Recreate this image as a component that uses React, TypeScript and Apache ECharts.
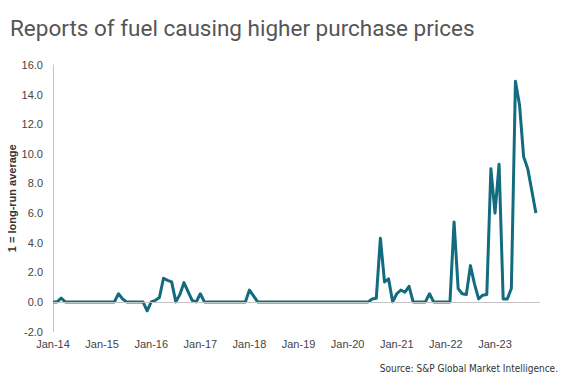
import React, { useEffect, useRef } from "react";
import * as echarts from "echarts";

const monthNames = ["Jan", "Feb", "Mar", "Apr", "May", "Jun", "Jul", "Aug", "Sep", "Oct", "Nov", "Dec"];
const years = ["14", "15", "16", "17", "18", "19", "20", "21", "22", "23"];
const categories: string[] = [];
years.forEach((y) => monthNames.forEach((m) => categories.push(`${m}-${y}`)));

const v2014 = [0, 0, 0.25, 0, 0, 0, 0, 0, 0, 0, 0, 0];
const v2015 = [0, 0, 0, 0, 0.55, 0.2, 0, 0, 0, 0, 0, -0.6];
const v2016 = [0, 0.1, 0.3, 1.6, 1.45, 1.35, 0, 0.5, 1.3, 0.7, 0.1, 0];
const v2017 = [0.55, 0, 0, 0, 0, 0, 0, 0, 0, 0, 0, 0];
const v2018 = [0.8, 0.4, 0, 0, 0, 0, 0, 0, 0, 0, 0, 0];
const v2019 = [0, 0, 0, 0, 0, 0, 0, 0, 0, 0, 0, 0];
const v2020 = [0, 0, 0, 0, 0, 0, 0.2, 0.25, 4.3, 1.35, 1.55, 0];
const v2021 = [0.55, 0.8, 0.65, 1.05, 0, 0, 0, 0, 0.55, 0, 0, 0];
const v2022 = [0, 0, 5.4, 0.9, 0.55, 0.5, 2.45, 1.2, 0.2, 0.45, 0.5, 9.0];
const v2023 = [6.0, 9.3, 0.2, 0.2, 0.9, 14.9, 13.3, 9.8, 9.0, 7.5, 6.0, null];

const values = [
  ...v2014, ...v2015, ...v2016, ...v2017, ...v2018,
  ...v2019, ...v2020, ...v2021, ...v2022, ...v2023,
];

const title = "Reports of fuel causing higher purchase prices";
const yName = "1 = long-run average";
const source = "Source: S&P Global Market Intelligence.";

export default function App() {
  const ref = useRef<HTMLDivElement>(null);
  useEffect(() => {
    if (!ref.current) return;
    const chart = echarts.init(ref.current, null, { renderer: "svg" });
    chart.setOption({
      animation: false,
      backgroundColor: "#ffffff",
      title: {
        text: title,
        left: 5,
        top: 11,
        textStyle: {
          fontFamily: "Roboto",
          fontSize: 22.5,
          fontWeight: "normal",
          color: "#555555",
        },
      },
      grid: { left: 53, right: 25, top: 65, bottom: 57.5, outerBoundsMode: "none", containLabel: false },
      xAxis: {
        type: "category",
        data: categories,
        boundaryGap: false,
        axisLine: { show: false },
        axisTick: { show: false },
        axisLabel: {
          interval: 11,
          margin: 7,
          fontFamily: "Liberation Sans",
          fontSize: 11,
          color: "#444444",
        },
        splitLine: { show: false },
      },
      yAxis: {
        type: "value",
        min: -2,
        max: 16,
        interval: 2,
        name: yName,
        nameLocation: "middle",
        nameRotate: 90,
        nameGap: 36,
        nameMoveOverlap: false,
        nameTextStyle: {
          fontFamily: "Liberation Sans",
          fontSize: 11,
          fontWeight: "bold",
          color: "#333333",
        },
        axisLine: { show: true, lineStyle: { color: "#c4c4c4", width: 1 } },
        axisTick: { show: false },
        splitLine: { show: false },
        axisLabel: {
          margin: 10,
          fontFamily: "Liberation Sans",
          fontSize: 11,
          color: "#444444",
          formatter: (v: number) => v.toFixed(1),
        },
      },
      graphic: [
        {
          type: "text",
          right: 7,
          top: 363,
          style: {
            text: source,
            fontFamily: "Liberation Sans Narrow, DejaVu Sans Condensed, sans-serif",
            fontSize: 10,
            fill: "#333333",
          },
        },
      ],
      series: [
        {
          type: "line",
          data: values,
          symbol: "none",
          lineStyle: { color: "#126b7e", width: 3, join: "round" },
          markLine: {
            silent: true,
            symbol: "none",
            label: { show: false },
            lineStyle: { color: "#c4c4c4", width: 1, type: "solid" },
            data: [{ yAxis: 0 }],
          },
          z: 3,
        },
      ],
    });
    return () => chart.dispose();
  }, []);
  return (
    <div
      ref={ref}
      style={{ position: "fixed", left: 0, top: 0, width: 565, height: 389 }}
    />
  );
}
